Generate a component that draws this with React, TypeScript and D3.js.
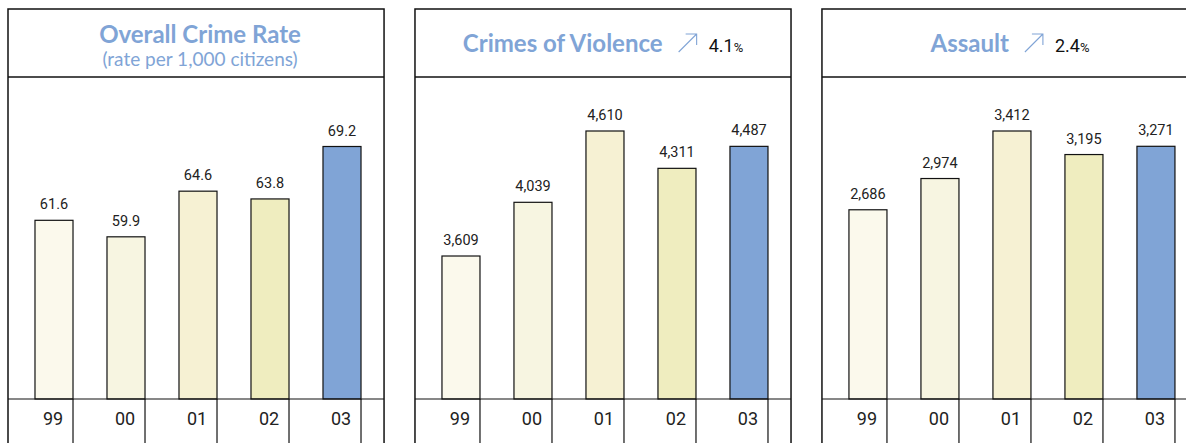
import { useEffect, useRef } from 'react';
import * as d3 from 'd3';

// chart data
const years = ["99", "00", "01", "02", "03"];
const overallCrimeRate = [61.6, 59.9, 64.6, 63.8, 69.2];
const crimesOfViolence = [3609, 4039, 4610, 4311, 4487];
const assault = [2686, 2974, 3412, 3195, 3271];
const panelTitles = ["Overall Crime Rate", "Crimes of Violence", "Assault"];
const panelSubtitles = ["(rate per 1,000 citizens)", "", ""];
const panelChanges = ["", "4.1", "2.4"];

const barColors = ["#fbf9ec", "#f7f5e1", "#f6f1d3", "#efedbf", "#80a4d6"];
const titleColor = "#80a4d6";

export default function App() {
    const svgRef = useRef<SVGSVGElement>(null);

    useEffect(() => {
        if (!svgRef.current) return;
        const svg = d3.select(svgRef.current);
        svg.selectAll("*").remove();

        const height = 443;
        const panelTop = 9;
        const headerBottom = 77;
        const baseline = 399;
        const panelBottom = height + 20;

        const panels = [
            { values: overallCrimeRate, floor: 43.2, maxTop: 146.5, fmt: d3.format(".1f") },
            { values: crimesOfViolence, floor: 2464, maxTop: 131, fmt: d3.format(",") },
            { values: assault, floor: 942, maxTop: 131, fmt: d3.format(",") },
        ];

        // panel placement
        const px = d3.scaleBand<number>()
            .domain(d3.range(panels.length))
            .range([8, 1198])
            .paddingInner(0.076);
        const panelWidth = px.bandwidth();

        // bars inside each panel
        const x = d3.scaleBand<string>()
            .domain(years)
            .range([10, 370])
            .paddingInner(0.472)
            .paddingOuter(0.236);

        panels.forEach((p, pi) => {
            const g = svg.append("g").attr("transform", `translate(${px(pi)},0)`);

            const y = d3.scaleLinear()
                .domain([p.floor, d3.max(p.values) as number])
                .range([baseline, p.maxTop]);

            // frame
            g.append("rect")
                .attr("x", 0).attr("y", panelTop)
                .attr("width", panelWidth).attr("height", panelBottom - panelTop)
                .attr("fill", "white")
                .attr("stroke", "#111").attr("stroke-width", 1.5);
            g.append("line")
                .attr("x1", 0).attr("x2", panelWidth)
                .attr("y1", headerBottom).attr("y2", headerBottom)
                .attr("stroke", "#111").attr("stroke-width", 1.5);

            // bars
            g.selectAll("rect.bar")
                .data(p.values)
                .join("rect")
                .attr("class", "bar")
                .attr("x", (d, i) => x(years[i]) as number)
                .attr("y", d => y(d))
                .attr("width", x.bandwidth())
                .attr("height", d => baseline - y(d))
                .attr("fill", (d, i) => barColors[i])
                .attr("stroke", "#111")
                .attr("stroke-width", 1.2);

            // value labels
            g.selectAll("text.val")
                .data(p.values)
                .join("text")
                .attr("class", "val")
                .attr("x", (d, i) => (x(years[i]) as number) + x.bandwidth() / 2)
                .attr("y", d => y(d) - 11)
                .attr("text-anchor", "middle")
                .style("font-family", "Roboto, sans-serif")
                .style("font-size", "14.5px")
                .style("fill", "#222")
                .text(d => p.fmt(d));

            // year row
            g.append("line")
                .attr("x1", 0).attr("x2", panelWidth)
                .attr("y1", baseline).attr("y2", baseline)
                .attr("stroke", "#111").attr("stroke-width", 1.2);
            g.selectAll("line.div")
                .data(years)
                .join("line")
                .attr("class", "div")
                .attr("x1", d => (x(d) as number) + x.bandwidth())
                .attr("x2", d => (x(d) as number) + x.bandwidth())
                .attr("y1", baseline).attr("y2", panelBottom)
                .attr("stroke", "#111").attr("stroke-width", 1.2);
            g.selectAll("text.year")
                .data(years)
                .join("text")
                .attr("class", "year")
                .attr("x", d => (x(d) as number) + x.bandwidth() / 2 - 1)
                .attr("y", 425)
                .attr("text-anchor", "middle")
                .style("font-family", "Roboto, sans-serif")
                .style("font-size", "18px")
                .style("fill", "#222")
                .text(d => d);

            // header
            const header = g.append("g");
            const title = header.append("text")
                .style("font-family", "Lato, sans-serif")
                .style("font-weight", "bold")
                .style("font-size", "24px")
                .style("fill", titleColor)
                .text(panelTitles[pi]);

            if (panelSubtitles[pi]) {
                title.attr("x", panelWidth / 2 + 4).attr("y", 43).attr("text-anchor", "middle");
                header.append("text")
                    .attr("x", panelWidth / 2 + 4).attr("y", 66)
                    .attr("text-anchor", "middle")
                    .style("font-family", "Lato, sans-serif")
                    .style("font-size", "19px")
                    .style("fill", titleColor)
                    .text(panelSubtitles[pi]);
            } else {
                const ty = 52;
                title.attr("x", 0).attr("y", ty);
                const tw = (title.node() as SVGTextElement).getComputedTextLength();
                const arrowX = tw + 16;
                const arrow = header.append("g").attr("transform", `translate(${arrowX},${ty})`);
                arrow.append("path")
                    .attr("d", "M0,0 L18,-18 M7,-18 L18,-18 L18,-7")
                    .attr("fill", "none")
                    .attr("stroke", titleColor)
                    .attr("stroke-width", 1.1);
                const change = header.append("text")
                    .attr("x", arrowX + 18 + 12).attr("y", ty)
                    .style("font-family", "Roboto, sans-serif")
                    .style("font-size", "18px")
                    .style("fill", "#111");
                change.append("tspan").text(panelChanges[pi]);
                change.append("tspan").style("font-size", "13px").text("%");
                const total = arrowX + 30 + (change.node() as SVGTextElement).getComputedTextLength();
                header.attr("transform", `translate(${(panelWidth - total) / 2},0)`);
            }
        });
    }, []);

    return (
        <svg ref={svgRef} width={1186} height={443}
            style={{ position: "absolute", left: 0, top: 0, background: "white" }}></svg>
    );
}
